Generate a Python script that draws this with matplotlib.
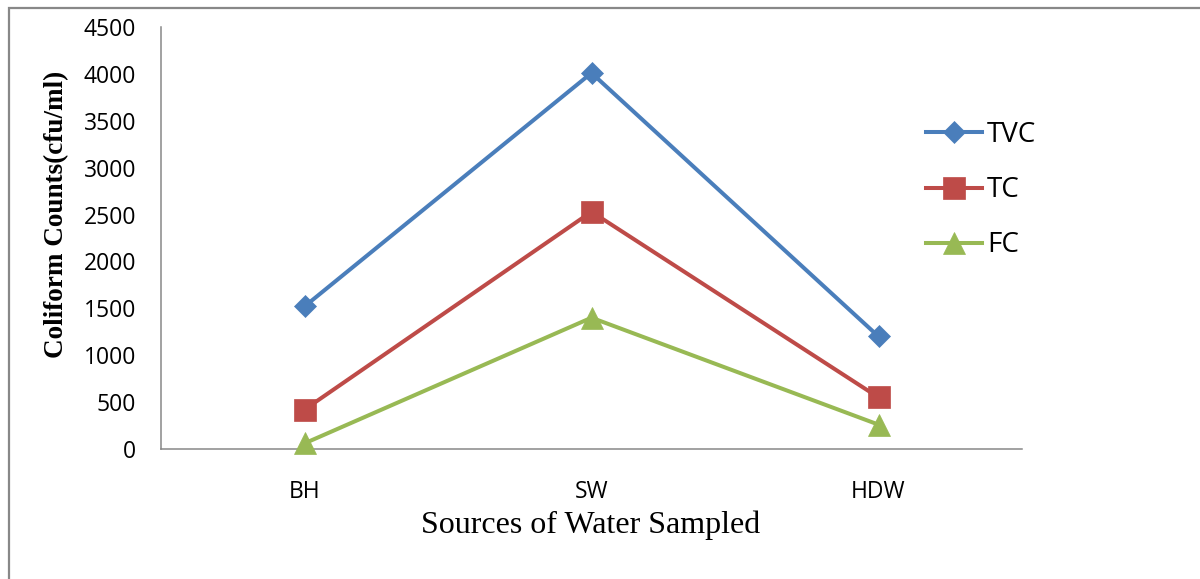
import matplotlib
matplotlib.use("Agg")
import matplotlib.pyplot as plt
from matplotlib.patches import Rectangle

# Coliform counts per water source
sources = ["BH", "SW", "HDW"]
tvc = [1520, 4010, 1200]
tc = [420, 2530, 550]
fc = [60, 1400, 260]

series = [
    ("TVC", tvc, "#4A7EBB", "D", 11.7),
    ("TC", tc, "#BE4B48", "s", 15.5),
    ("FC", fc, "#98B954", "^", 16.5),
]

yticks = [0, 500, 1000, 1500, 2000, 2500, 3000, 3500, 4000, 4500]

fig = plt.figure(figsize=(12, 5.79), dpi=100)
ax = fig.add_axes([161 / 1200, 1 - 449 / 579, (1022 - 161) / 1200, (449 - 27) / 579])

x = list(range(len(sources)))
for name, vals, color, marker, ms in series:
    ax.plot(x, vals, color=color, lw=2.9, marker=marker, markersize=ms,
            markerfacecolor=color, markeredgecolor=color, markeredgewidth=0.5,
            label=name, clip_on=False, zorder=3)

ax.set_xlim(-0.5, 2.5)
ax.set_ylim(0, 4500)
ax.set_yticks(yticks)
ax.set_yticklabels([str(v) for v in yticks])
ax.set_xticks(x)
ax.set_xticklabels(sources)

for side in ("top", "right"):
    ax.spines[side].set_visible(False)
for side in ("left", "bottom"):
    ax.spines[side].set_color("#878787")
    ax.spines[side].set_linewidth(1.1)

ax.tick_params(axis="both", length=0, labelsize=16.5, colors="#000000")
ax.tick_params(axis="y", pad=18)
ax.tick_params(axis="x", pad=22)
for lbl in ax.get_xticklabels() + ax.get_yticklabels():
    lbl.set_fontfamily("Open Sans")

fig.text(591 / 1200, 1 - 525 / 579, "Sources of Water Sampled",
         ha="center", va="center", fontsize=23, family="Liberation Serif")
fig.text(57 / 1200, 1 - 214 / 579, "Coliform Counts(cfu/ml)",
         ha="center", va="center", rotation=90, fontsize=19.5,
         family="Liberation Serif", fontweight="bold")

leg = ax.legend(loc="upper left", bbox_to_anchor=(926 / 1200, 1 - 121 / 579),
                bbox_transform=fig.transFigure, frameon=False,
                prop={"family": "Open Sans", "size": 20},
                handlelength=2.0, handletextpad=0.2, labelspacing=0.98,
                borderpad=0, borderaxespad=0)

# outer chart frame
fig.add_artist(Rectangle((8.5 / 1200, -0.2), 1.5, 1.2 - 8.5 / 579,
                         transform=fig.transFigure, fill=False,
                         edgecolor="#888888", lw=1.6))

fig.savefig("out.png", dpi=100, facecolor="white")
